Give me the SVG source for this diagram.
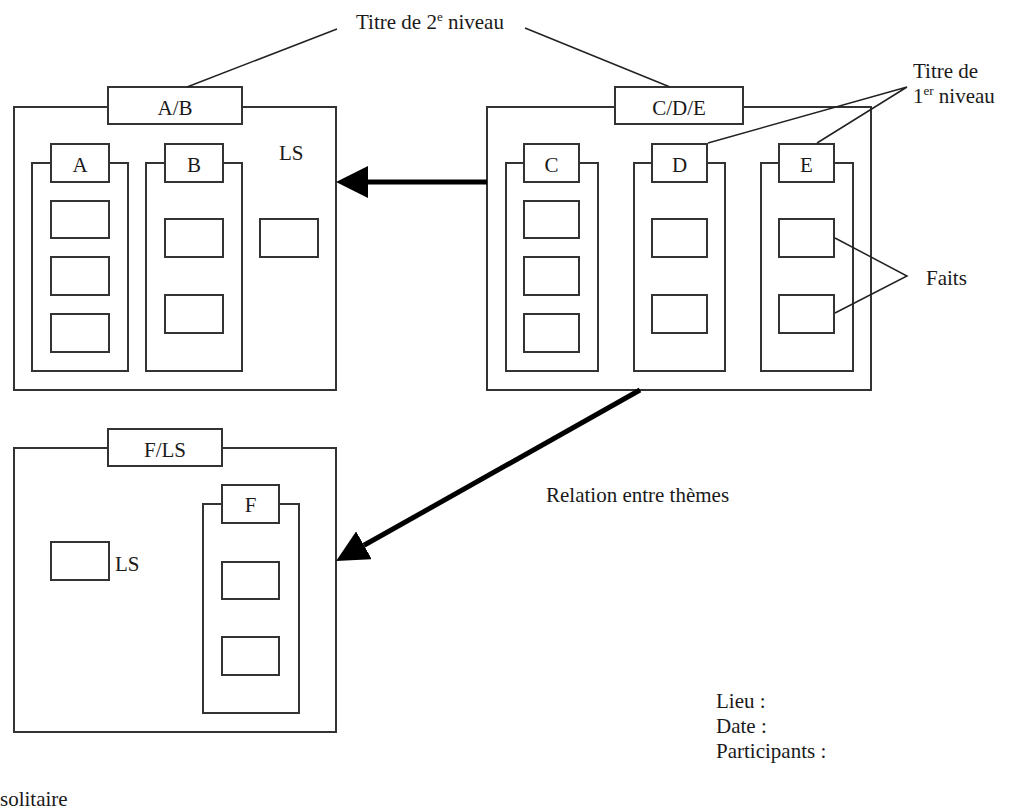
<svg xmlns="http://www.w3.org/2000/svg" width="1025" height="812" viewBox="0 0 1025 812">
<style>
.box{fill:#fff;stroke:#333;stroke-width:2}
.t{font-family:"Liberation Serif","Times New Roman",serif;font-size:21px;fill:#1a1a1a}
.c{text-anchor:middle}
.lead{stroke:#222;stroke-width:1.5;fill:none}
.arr{stroke:#000;stroke-width:5;fill:none}
</style>
<defs>
<marker id="ah" markerUnits="userSpaceOnUse" markerWidth="32" markerHeight="32" refX="0" refY="15" orient="auto" viewBox="0 0 30 30">
<path d="M0,0 L30,15 L0,30 z" fill="#000"/>
</marker>
</defs>
<rect width="1025" height="812" fill="#fff"/>

<g id="theme-AB">
<rect class="box" x="14" y="107" width="322" height="283"/>
<rect class="box" x="108" y="87" width="134" height="37"/>
<text class="t c" x="175" y="115">A/B</text>
<text class="t" x="279" y="160">LS</text>
<rect class="box" x="260" y="219" width="58" height="38"/>
</g>
<g id="group-A">
<rect class="box" x="32" y="163" width="96" height="208"/>
<rect class="box" x="51" y="144" width="58" height="38"/>
<text class="t c" x="80" y="172">A</text>
<rect class="box" x="51" y="201" width="58" height="37"/>
<rect class="box" x="51" y="257" width="58" height="38"/>
<rect class="box" x="51" y="314" width="58" height="38"/>
</g>
<g id="group-B">
<rect class="box" x="146" y="163" width="96" height="208"/>
<rect class="box" x="165" y="144" width="58" height="38"/>
<text class="t c" x="194" y="172">B</text>
<rect class="box" x="165" y="219" width="58" height="38"/>
<rect class="box" x="165" y="295" width="58" height="38"/>
</g>

<g id="theme-CDE">
<rect class="box" x="487" y="107" width="384" height="283"/>
<rect class="box" x="615" y="87" width="128" height="37"/>
<text class="t c" x="679" y="115">C/D/E</text>
</g>
<g id="group-C">
<rect class="box" x="506" y="163" width="92" height="208"/>
<rect class="box" x="524" y="144" width="55" height="38"/>
<text class="t c" x="551.5" y="172">C</text>
<rect class="box" x="524" y="201" width="55" height="37"/>
<rect class="box" x="524" y="257" width="55" height="38"/>
<rect class="box" x="524" y="314" width="55" height="38"/>
</g>
<g id="group-D">
<rect class="box" x="634" y="163" width="91" height="208"/>
<rect class="box" x="652" y="144" width="55" height="38"/>
<text class="t c" x="679.5" y="172">D</text>
<rect class="box" x="652" y="219" width="55" height="38"/>
<rect class="box" x="652" y="295" width="55" height="38"/>
</g>
<g id="group-E">
<rect class="box" x="761" y="163" width="92" height="208"/>
<rect class="box" x="779" y="144" width="55" height="38"/>
<text class="t c" x="806.5" y="172">E</text>
<rect class="box" x="779" y="219" width="55" height="38"/>
<rect class="box" x="779" y="295" width="55" height="38"/>
</g>

<g id="theme-FLS">
<rect class="box" x="14" y="448" width="322" height="284"/>
<rect class="box" x="108" y="429" width="114" height="37"/>
<text class="t c" x="165" y="457">F/LS</text>
<rect class="box" x="51" y="542" width="58" height="38"/>
<text class="t" x="115" y="571">LS</text>
</g>
<g id="group-F">
<rect class="box" x="203" y="504" width="96" height="209"/>
<rect class="box" x="222" y="485" width="57" height="38"/>
<text class="t c" x="250.5" y="512">F</text>
<rect class="box" x="222" y="562" width="57" height="37"/>
<rect class="box" x="222" y="637" width="57" height="38"/>
</g>

<g id="labels">
<text class="t" x="356" y="29">Titre de 2<tspan font-size="13" dy="-8">e</tspan><tspan dy="8"> niveau</tspan></text>
<text class="t" x="913" y="78">Titre de</text>
<text class="t" x="913" y="103">1<tspan font-size="13" dy="-8">er</tspan><tspan dy="8"> niveau</tspan></text>
<text class="t" x="926" y="285">Faits</text>
<text class="t" x="546" y="502">Relation entre thèmes</text>
<text class="t" x="716" y="708">Lieu :</text>
<text class="t" x="716" y="733">Date :</text>
<text class="t" x="716" y="758">Participants :</text>
<text class="t" x="0" y="806">solitaire</text>
</g>

<g id="connectors">
<path class="lead" d="M187,87 L337,29"/>
<path class="lead" d="M525,28 L670,87"/>
<path class="lead" d="M708,143 L907,87 L817,143"/>
<path class="lead" d="M835,238 L907,276 L835,313"/>
<path class="arr" d="M487,182 L368,182" marker-end="url(#ah)"/>
<path class="arr" d="M640,390 L364,545.3" marker-end="url(#ah)"/>
</g>
</svg>
